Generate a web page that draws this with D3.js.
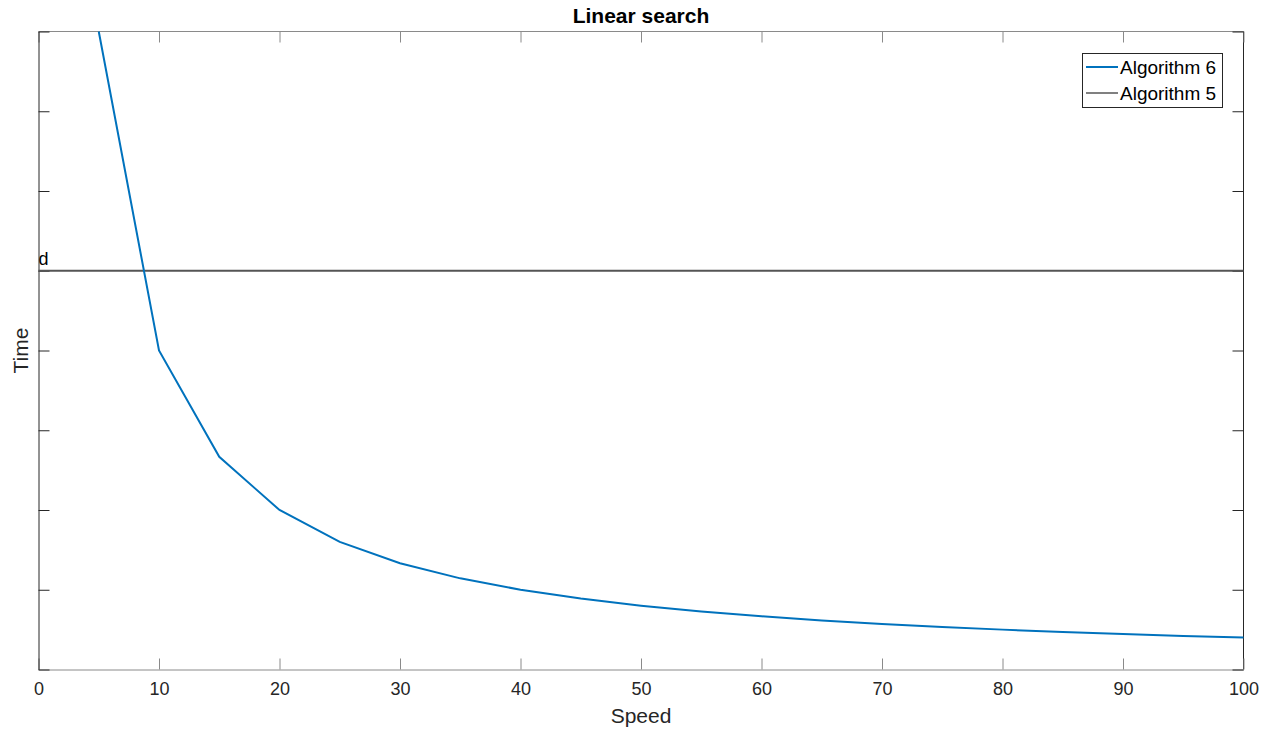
<!DOCTYPE html>
<html><head><meta charset="utf-8">
<script src="https://cdn.jsdelivr.net/npm/d3@7"></script>
<style>body{margin:0;background:#fff;} text{font-family:"Liberation Sans",Arial,sans-serif;}</style>
</head><body>
<svg id="c" width="1271" height="730"></svg>
<script>
const speeds = [5,10,15,20,25,30,35,40,45,50,55,60,65,70,75,80,85,90,95,100];
const times6 = [8,4,2.667,2,1.6,1.333,1.143,1,0.889,0.8,0.727,0.667,0.615,0.571,0.533,0.5,0.471,0.444,0.421,0.4];
const algo5Value = 5;
const xTicks = [0,10,20,30,40,50,60,70,80,90,100];
const yTicks = [0,1,2,3,4,5,6,7,8];
const seriesNames = ["Algorithm 6","Algorithm 5"];
const colors = ["#0072BD","#555555"];

const svg = d3.select("#c");
const L=38.5, R=1243.5, T=31.5, B=669.5;
const x = d3.scaleLinear().domain([0,100]).range([L,R]);
const y = d3.scaleLinear().domain([0,8]).range([B,T]);

const g = svg.append("g");
g.append("line").attr("x1",L).attr("x2",R).attr("y1",T).attr("y2",T).attr("stroke","#8a8a8a");
g.append("line").attr("x1",R).attr("x2",R).attr("y1",T).attr("y2",B).attr("stroke","#262626");

const xAxis = svg.append("g").attr("transform",`translate(0,${B})`)
  .call(d3.axisBottom(x).tickValues(xTicks).tickSizeInner(-11).tickSizeOuter(0).tickPadding(13));
xAxis.select(".domain").attr("stroke","#8a8a8a");
xAxis.selectAll(".tick line").attr("stroke","#8a8a8a");
xAxis.selectAll("text").attr("fill","#262626").style("font-size","18px");

const xTop = svg.append("g").attr("transform",`translate(0,${T})`)
  .call(d3.axisTop(x).tickValues(xTicks).tickSizeInner(-11).tickSizeOuter(0).tickFormat(""));
xTop.select(".domain").remove();
xTop.selectAll(".tick line").attr("stroke","#8a8a8a");

const yAxis = svg.append("g").attr("transform",`translate(${L},0)`)
  .call(d3.axisLeft(y).tickValues(yTicks).tickSizeInner(-11).tickSizeOuter(0).tickFormat(""));
yAxis.select(".domain").attr("stroke","#262626");
yAxis.selectAll(".tick line").attr("stroke","#262626");

const yRight = svg.append("g").attr("transform",`translate(${R},0)`)
  .call(d3.axisRight(y).tickValues(yTicks).tickSizeInner(-11).tickSizeOuter(0).tickFormat(""));
yRight.select(".domain").remove();
yRight.selectAll(".tick line").attr("stroke","#262626");

svg.append("line").attr("x1",x(0)).attr("x2",x(100)).attr("y1",y(algo5Value)).attr("y2",y(algo5Value))
  .attr("stroke",colors[1]).attr("stroke-width",2);
svg.append("text").attr("x",x(0)).attr("y",y(algo5Value)-6).text("d")
  .style("font-size","18px").attr("fill","#000");

const line = d3.line().x((d,i)=>x(speeds[i])).y(d=>y(d));
svg.append("path").datum(times6).attr("d",line).attr("fill","none")
  .attr("stroke",colors[0]).attr("stroke-width",2);

svg.append("text").attr("x",(L+R)/2).attr("y",23).attr("text-anchor","middle")
  .style("font-size","21px").style("font-weight","bold").attr("fill","#000").text("Linear search");
svg.append("text").attr("x",(L+R)/2).attr("y",723).attr("text-anchor","middle")
  .style("font-size","21px").attr("fill","#262626").text("Speed");
svg.append("text").attr("transform",`translate(28,${(T+B)/2}) rotate(-90)`).attr("text-anchor","middle")
  .style("font-size","21px").attr("fill","#262626").text("Time");

const lg = svg.append("g");
lg.append("rect").attr("x",1082.5).attr("y",53.5).attr("width",140).attr("height",54)
  .attr("fill","#fff").attr("stroke","#262626").attr("stroke-width",1);
seriesNames.forEach((n,i)=>{
  const yy = 67 + i*26;
  lg.append("line").attr("x1",1086).attr("x2",1118).attr("y1",yy).attr("y2",yy)
    .attr("stroke", i===0?colors[0]:"#808080").attr("stroke-width",2);
  lg.append("text").attr("x",1120).attr("y",yy+7).text(n).style("font-size","19px").attr("fill","#000");
});
</script>
</body></html>
